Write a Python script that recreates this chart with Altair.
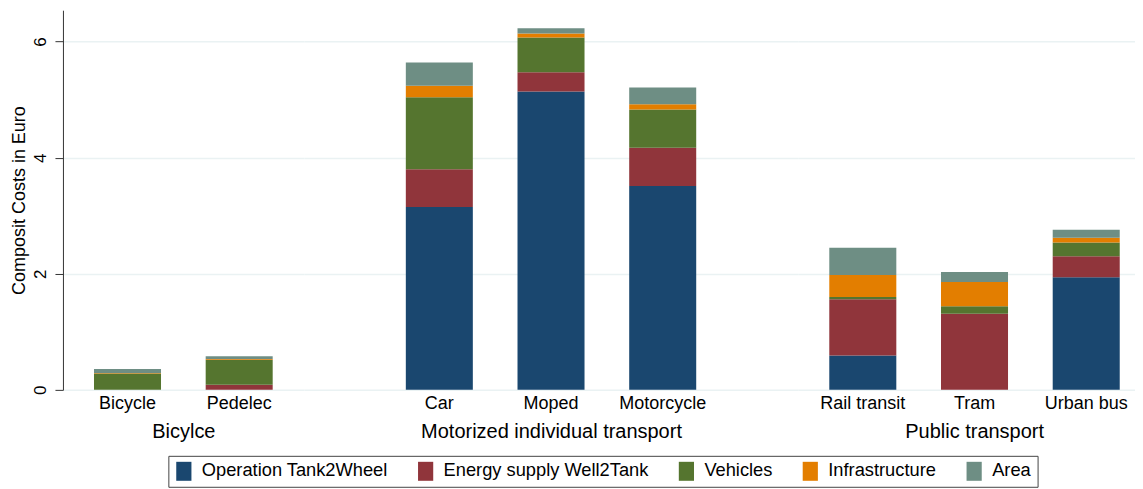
import altair as alt
import pandas as pd

# ---- data ----
modes = ["Bicycle", "Pedelec", "Car", "Moped", "Motorcycle", "Rail transit", "Tram", "Urban bus"]
groups = ["Bicylce", "Bicylce",
          "Motorized individual transport", "Motorized individual transport", "Motorized individual transport",
          "Public transport", "Public transport", "Public transport"]
series = ["Operation Tank2Wheel", "Energy supply Well2Tank", "Vehicles", "Infrastructure", "Area"]
colors = ["#1a476f", "#90353b", "#55752f", "#e37e00", "#6e8e84"]

operation = [0.00, 0.00, 3.15, 5.14, 3.51, 0.59, 0.00, 1.94]
energy = [0.00, 0.09, 0.65, 0.33, 0.66, 0.97, 1.31, 0.36]
vehicles = [0.28, 0.43, 1.24, 0.60, 0.66, 0.04, 0.13, 0.24]
infrastructure = [0.01, 0.01, 0.20, 0.07, 0.09, 0.38, 0.42, 0.08]
area = [0.07, 0.05, 0.40, 0.09, 0.29, 0.47, 0.17, 0.14]

y_ticks = [0, 2, 4, 6]
group_names = ["Bicylce", "Motorized individual transport", "Public transport"]

# ---- layout (styles, not data) ----
panel_w = [241, 495, 337]
pad_outer = [0.278, 0.914, 0.207]
aligns = [0.5, 0.5, 0.67]
title_x = [None, None, 176]
FONT = "Liberation Sans"
GRID = "#eaf2f3"

rows = []
for i, m in enumerate(modes):
    for k, vals in enumerate([operation, energy, vehicles, infrastructure, area]):
        rows.append({"mode": m, "group": groups[i], "series": series[k], "order": k, "value": vals[i]})
df = pd.DataFrame(rows)

legend = alt.Legend(
    orient="none", legendX=105.5, legendY=446, direction="horizontal", columns=5,
    title=None, symbolType="M-0.8,-1H0.8V1H-0.8Z", symbolSize=361,
    symbolStrokeWidth=0, labelFontSize=18.3, labelOffset=8.5, columnPadding=28,
    padding=6, strokeColor="#444", fillColor="white", labelLimit=0,
    labelColor="black", labelFont=FONT,
)


def panel(j):
    g = group_names[j]
    sub = df[df["group"] == g]
    order_modes = [m for m, gg in zip(modes, groups) if gg == g]
    if j == 0:
        yaxis = alt.Axis(
            title="Composit Costs in Euro", values=y_ticks, titleFontSize=18, labelFontSize=17,
            labelAngle=270, labelAlign="center", labelBaseline="bottom", tickSize=8,
            labelPadding=5, titlePadding=3, domainColor="#333", tickColor="#333",
            gridColor=GRID, gridWidth=1.5, titleFontWeight="normal", labelColor="black",
            titleColor="black", labelFont=FONT, titleFont=FONT,
        )
    else:
        yaxis = alt.Axis(
            title="", values=y_ticks, labels=False, ticks=False, domain=False,
            grid=True, gridColor=GRID, gridWidth=1.5, minExtent=0, maxExtent=0,
        )
    xaxis_kw = dict(
        title=g, labelAngle=0, ticks=False, domain=False, grid=False,
        labelFontSize=18, titleFontSize=20, labelPadding=5, titlePadding=9,
        titleFontWeight="normal", labelColor="black", titleColor="black",
        labelFont=FONT, titleFont=FONT,
    )
    if title_x[j] is not None:
        xaxis_kw["titleX"] = title_x[j]
    return alt.Chart(sub).mark_bar().encode(
        x=alt.X(
            "mode:N", sort=order_modes,
            scale=alt.Scale(paddingInner=0.4, paddingOuter=pad_outer[j], align=aligns[j]),
            axis=alt.Axis(**xaxis_kw),
        ),
        y=alt.Y(
            "value:Q", stack="zero",
            scale=alt.Scale(domain=[0, 6.54], nice=False),
            axis=yaxis,
        ),
        color=alt.Color("series:N", sort=series,
                        scale=alt.Scale(domain=series, range=colors), legend=legend),
        order=alt.Order("order:Q", sort="ascending"),
    ).properties(width=panel_w[j], height=380)


chart = alt.hconcat(panel(0), panel(1), panel(2), spacing=0, bounds="flush").properties(
    padding={"left": 3, "top": 2, "right": 0, "bottom": 0}
).configure(
    font=FONT, background="white",
    view=alt.ViewConfig(stroke="transparent", strokeWidth=0),
)

chart.save("out.html", embed_options={"renderer": "svg", "actions": False})
